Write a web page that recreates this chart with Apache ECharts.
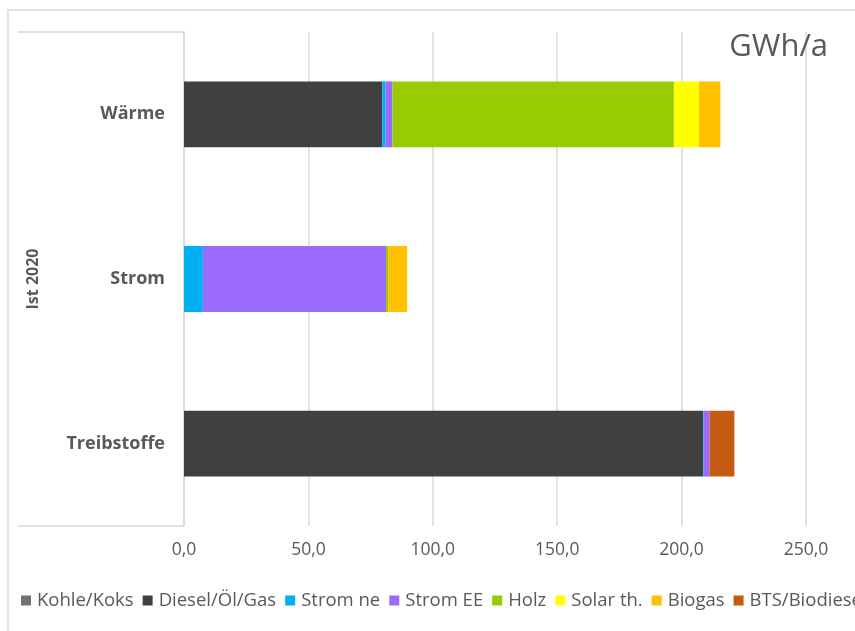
<!DOCTYPE html>
<html>
<head>
<meta charset="utf-8">
<script src="https://cdn.jsdelivr.net/npm/echarts@6/dist/echarts.min.js"></script>
<style>
  html, body { margin: 0; padding: 0; background: #fff; }
  #chart { width: 855px; height: 631px; }
</style>
</head>
<body>
<div id="chart"></div>
<script>
// Energy use by sector, 2020 (GWh/a)
const categories = ['Treibstoffe', 'Strom', 'Wärme'];
const seriesNames = ['Kohle/Koks', 'Diesel/Öl/Gas', 'Strom ne', 'Strom EE', 'Holz', 'Solar th.', 'Biogas', 'BTS/Biodiesel'];
const kohle   = [0, 0, 0];
const diesel  = [208.6, 0, 79.7];
const stromNe = [0.3, 7.6, 1.3];
const stromEE = [2.4, 73.6, 2.8];
const holz    = [0, 0.9, 113.1];
const solar   = [0, 0, 10.1];
const biogas  = [0, 7.6, 8.6];
const bts     = [9.9, 0, 0];
const xTicks = [0, 50, 100, 150, 200, 250];

const colors = ['#767171', '#404040', '#00B0F0', '#9B6BFF', '#99CC00', '#FFFF00', '#FFC000', '#C55A11'];
const values = [kohle, diesel, stromNe, stromEE, holz, solar, biogas, bts];

const FONT = '"Open Sans", "DejaVu Sans", sans-serif';
const TXT = '#595959';
const LINE = '#d9d9d9';

const G = { left: 184, right: 49, top: 32, bottom: 105 };
const W = 855, H = 631;

const chart = echarts.init(document.getElementById('chart'), null, { renderer: 'canvas' });

chart.setOption({
  backgroundColor: '#fff',
  animation: false,
  title: {
    text: 'GWh/a',
    right: 22, top: 27,
    textStyle: { fontFamily: FONT, fontSize: 31, fontWeight: 'normal', color: TXT }
  },
  legend: {
    data: seriesNames,
    left: 16, top: 586,
    width: 3000,
    itemWidth: 10, itemHeight: 10, itemGap: 9,
    icon: 'rect',
    textStyle: { fontFamily: FONT, fontSize: 18.5, color: TXT, padding: [0, 0, 0, 1] }
  },
  grid: { left: G.left, right: G.right, top: G.top, bottom: G.bottom, containLabel: false },
  xAxis: {
    type: 'value',
    min: xTicks[0], max: xTicks[xTicks.length - 1], interval: 50,
    axisLine: { show: false },
    axisTick: { show: false },
    splitLine: { show: true, lineStyle: { color: LINE, width: 1.5 } },
    axisLabel: {
      margin: 15,
      fontFamily: FONT, fontSize: 17.5, color: TXT,
      formatter: v => v.toFixed(1).replace('.', ',')
    }
  },
  yAxis: {
    type: 'category',
    data: categories,
    name: 'Ist 2020',
    nameLocation: 'middle',
    nameRotate: 90,
    nameGap: 143,
    nameTextStyle: { fontFamily: FONT, fontSize: 16, fontWeight: 'bold', color: TXT },
    axisLine: { show: true, lineStyle: { color: LINE, width: 1.5 } },
    axisTick: { show: false },
    axisLabel: { margin: 19, fontFamily: FONT, fontSize: 18, fontWeight: 'bold', color: TXT }
  },
  graphic: [
    // chart frame
    { type: 'rect', shape: { x: 8, y: 10, width: 1000, height: 1000 }, style: { fill: 'none', stroke: LINE, lineWidth: 1.5 }, silent: true },
    // category label box
    { type: 'line', shape: { x1: 18, y1: G.top, x2: G.left, y2: G.top }, style: { stroke: LINE, lineWidth: 1.5 }, silent: true },
    { type: 'line', shape: { x1: 18, y1: H - G.bottom, x2: G.left, y2: H - G.bottom }, style: { stroke: LINE, lineWidth: 1.5 }, silent: true }
  ],
  series: seriesNames.map((name, i) => ({
    name,
    type: 'bar',
    stack: 'total',
    barWidth: '40%',
    itemStyle: { color: colors[i] },
    data: values[i]
  }))
});
</script>
</body>
</html>
